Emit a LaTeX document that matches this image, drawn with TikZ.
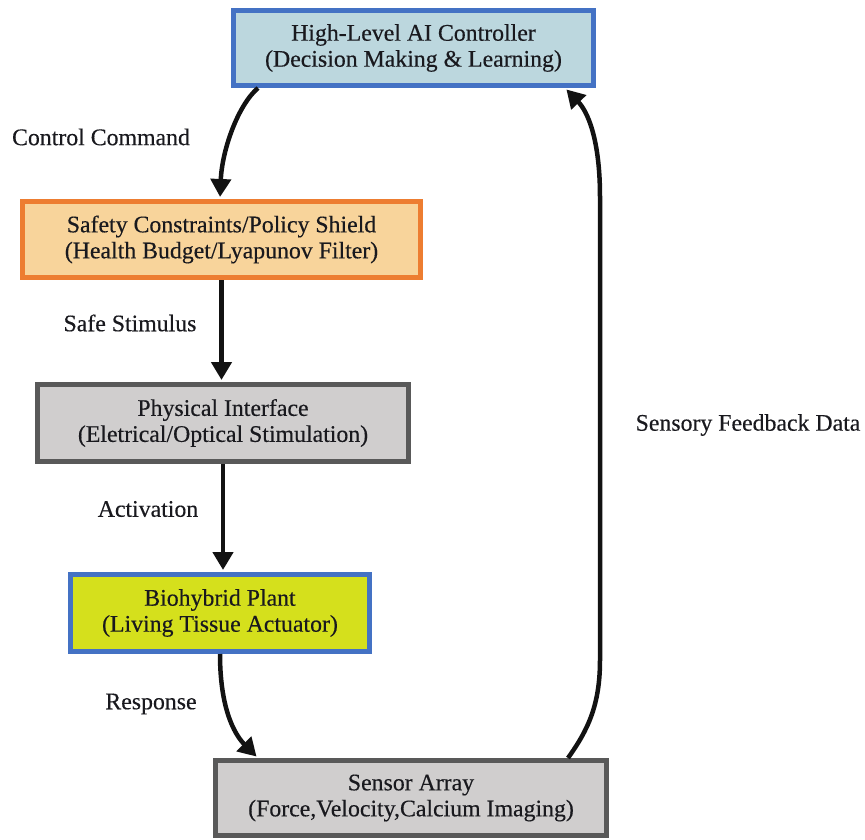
\documentclass[tikz,border=0pt]{standalone}
\usepackage{fontspec}
\setmainfont{Liberation Serif}[FakeBold=0.35]
\usetikzlibrary{arrows.meta,calc}
\definecolor{bblue}{RGB}{68,114,196}
\definecolor{fblue}{RGB}{188,215,222}
\definecolor{borange}{RGB}{237,125,49}
\definecolor{forange}{RGB}{248,212,155}
\definecolor{bgray}{RGB}{89,89,89}
\definecolor{fgray}{RGB}{208,206,206}
\definecolor{fyellow}{RGB}{213,224,28}
\definecolor{txt}{RGB}{25,25,30}
\tikzset{
  box/.style={draw, line width=5pt, align=center, inner sep=0pt, text=txt,
    font=\fontsize{23.8}{26}\selectfont},
  lbl/.style={text=txt, font=\fontsize{23.8}{26}\selectfont, inner sep=0pt},
  conn/.style={line width=4.5pt, color=black!93,
    -{Triangle[length=18pt,width=20pt]}, shorten >=2pt}
}
\begin{document}
\begin{tikzpicture}[x=1pt,y=-1pt]
\useasboundingbox (0,0) rectangle (865,840);
\node[box, draw=bblue, fill=fblue, minimum width=360pt, minimum height=75pt] (ai) at (413.5,48) {High-Level AI Controller\\(Decision Making \& Learning)};
\node[box, draw=borange, fill=forange, minimum width=398pt, minimum height=76pt] (safety) at (221.5,239.5) {Safety Constraints/Policy Shield\\(Health Budget/Lyapunov Filter)};
\node[box, draw=bgray, fill=fgray, minimum width=371pt, minimum height=77pt] (phys) at (223,423) {Physical Interface\\(Eletrical/Optical Stimulation)};
\node[box, draw=bblue, fill=fyellow, minimum width=299pt, minimum height=77pt] (bio) at (220,613) {Biohybrid Plant\\(Living Tissue Actuator)};
\node[box, draw=bgray, fill=fgray, minimum width=391pt, minimum height=75pt] (sensor) at (411,798) {Sensor Array\\(Force,Velocity,Calcium Imaging)};

\node[lbl] (l1) at (101,137) {Control Command};
\node[lbl] (l2) at (130,323) {Safe Stimulus};
\node[lbl] (l3) at (148,509) {Activation};
\node[lbl] (l4) at (151,704) {Response};
\node[lbl] (l5) at (748,425) {Sensory Feedback Data};

\draw[conn] ($(ai.south west)+(27,0)$) .. controls (238,105) and (222,150) .. ($(safety.north)+(-1.5,0)$);
\draw[conn] (safety.south) -- (safety.south |- phys.north);
\draw[conn] (phys.south) -- (phys.south |- bio.north);
\draw[conn] (bio.south) .. controls (220,715) and (238,738) .. ($(sensor.north west)+(45,0)$);
\draw[conn] ($(sensor.north east)+(-41,0)$) .. controls (588,730) and (600,705) .. (600,660) -- (600,197) .. controls (600,140) and (588,112) .. ($(ai.south east)+(-31,0)$);
\end{tikzpicture}
\end{document}
